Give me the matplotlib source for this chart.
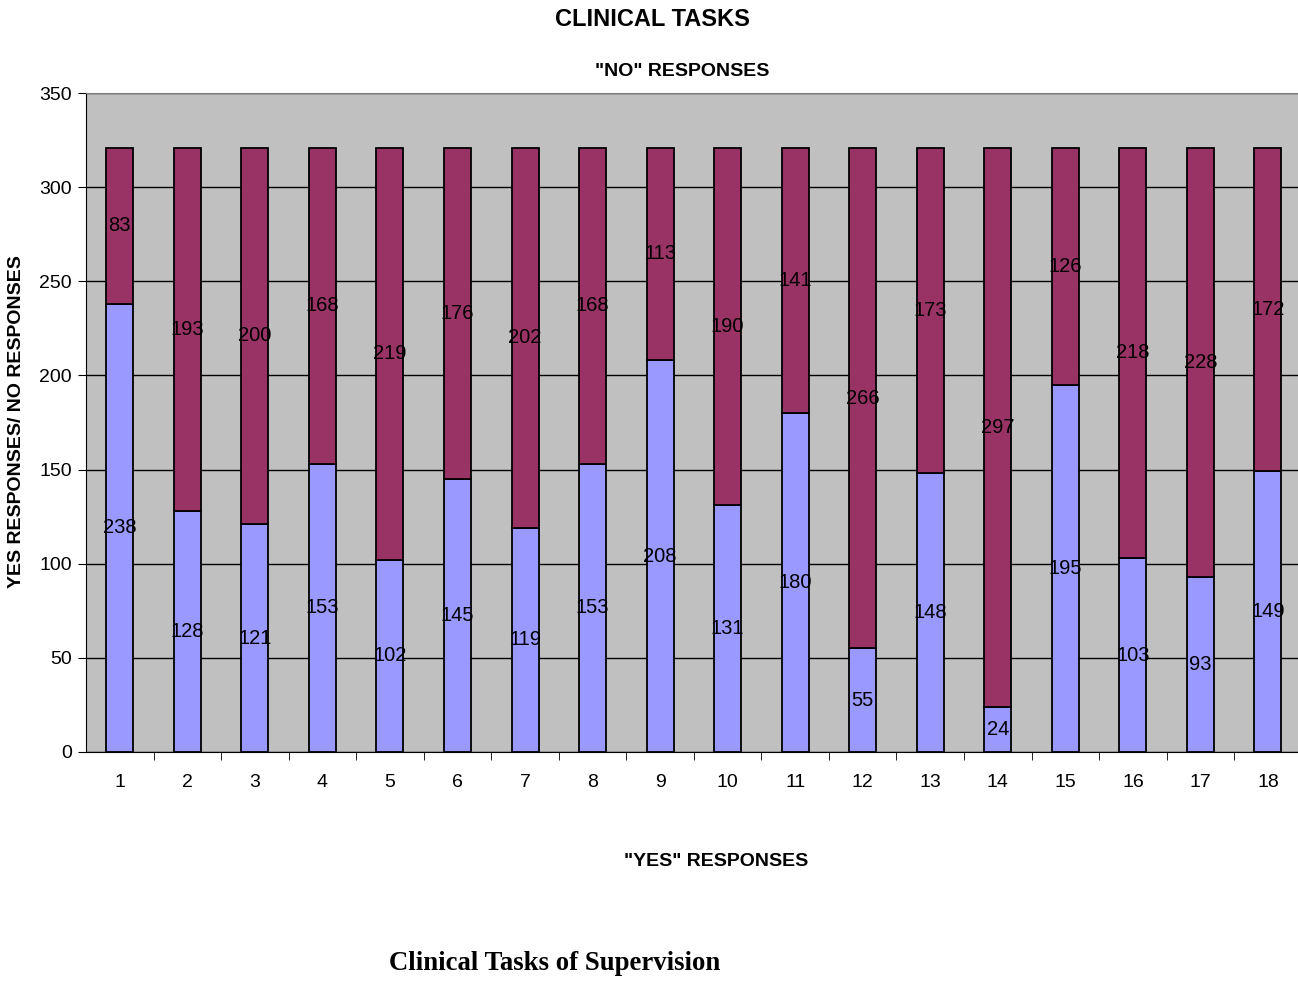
import matplotlib
matplotlib.use("Agg")
import matplotlib.pyplot as plt
import numpy as np

# clinical task numbers and response counts
tasks = [str(i) for i in range(1, 19)]
yes_counts = [238, 128, 121, 153, 102, 145, 119, 153, 208, 131, 180, 55, 148, 24, 195, 103, 93, 149]
no_counts = [83, 193, 200, 168, 219, 176, 202, 168, 113, 190, 141, 266, 173, 297, 126, 218, 228, 172]

YES_COLOR = "#9999FF"
NO_COLOR = "#993366"
BG_COLOR = "#C0C0C0"

plt.rcParams["font.family"] = ["Liberation Sans", "DejaVu Sans"]

W, H = 1298, 983
fig = plt.figure(figsize=(W / 100, H / 100), dpi=100)
left, right, top, bottom = 86, 1301.75, 93, 752
ax = fig.add_axes([left / W, 1 - bottom / H, (right - left) / W, (bottom - top) / H])
ax.set_facecolor(BG_COLOR)

x = np.arange(1, len(tasks) + 1)
yes = np.array(yes_counts)
no = np.array(no_counts)
bw = 0.40
ax.bar(x, yes, width=bw, color=YES_COLOR, edgecolor="black", linewidth=1.3, zorder=3)
ax.bar(x, no, width=bw, bottom=yes, color=NO_COLOR, edgecolor="black", linewidth=1.3, zorder=3)

# value labels in the middle of each segment
for xi, y, n in zip(x, yes, no):
    ax.text(xi, y / 2, str(y), ha="center", va="center", fontsize=14.5, zorder=4)
    ax.text(xi, y + n / 2, str(n), ha="center", va="center", fontsize=14.5, zorder=4)

ax.set_xlim(0.5, len(tasks) + 0.5)
ax.set_ylim(0, 350)
ax.set_yticks(range(0, 351, 50))
ax.yaxis.grid(True, color="black", linewidth=1.0, zorder=1)
ax.set_xticks(x)
ax.set_xticklabels(tasks, fontsize=14)
ax.set_xticks(np.arange(1.5, len(tasks), 1), minor=True)
ax.tick_params(axis="x", which="major", length=0, pad=16)
ax.tick_params(axis="x", which="minor", length=6, direction="out", color="black")
ax.tick_params(axis="y", labelsize=14, length=6, direction="out", pad=4)

ax.spines["top"].set_color("#808080")
ax.spines["right"].set_visible(False)
ax.spines["left"].set_color("black")
ax.spines["bottom"].set_color("black")

fig.text(652 / W, 1 - 20 / H, "CLINICAL TASKS", ha="center", va="center",
         fontsize=17, fontweight="bold")
fig.text(682 / W, 1 - 71 / H, '"NO" RESPONSES', ha="center", va="center",
         fontsize=14, fontweight="bold")
fig.text(716 / W, 1 - 862 / H, '"YES" RESPONSES', ha="center", va="center",
         fontsize=14, fontweight="bold")
fig.text(17 / W, 1 - 422 / H, "YES RESPONSES/ NO RESPONSES", ha="center", va="center",
         rotation=90, fontsize=14, fontweight="bold")
fig.text(555 / W, 1 - 963 / H, "Clinical Tasks of Supervision", ha="center", va="center",
         fontsize=19.3, fontweight="bold", family=["Liberation Serif", "DejaVu Serif"])

fig.savefig("out.png", dpi=100)
